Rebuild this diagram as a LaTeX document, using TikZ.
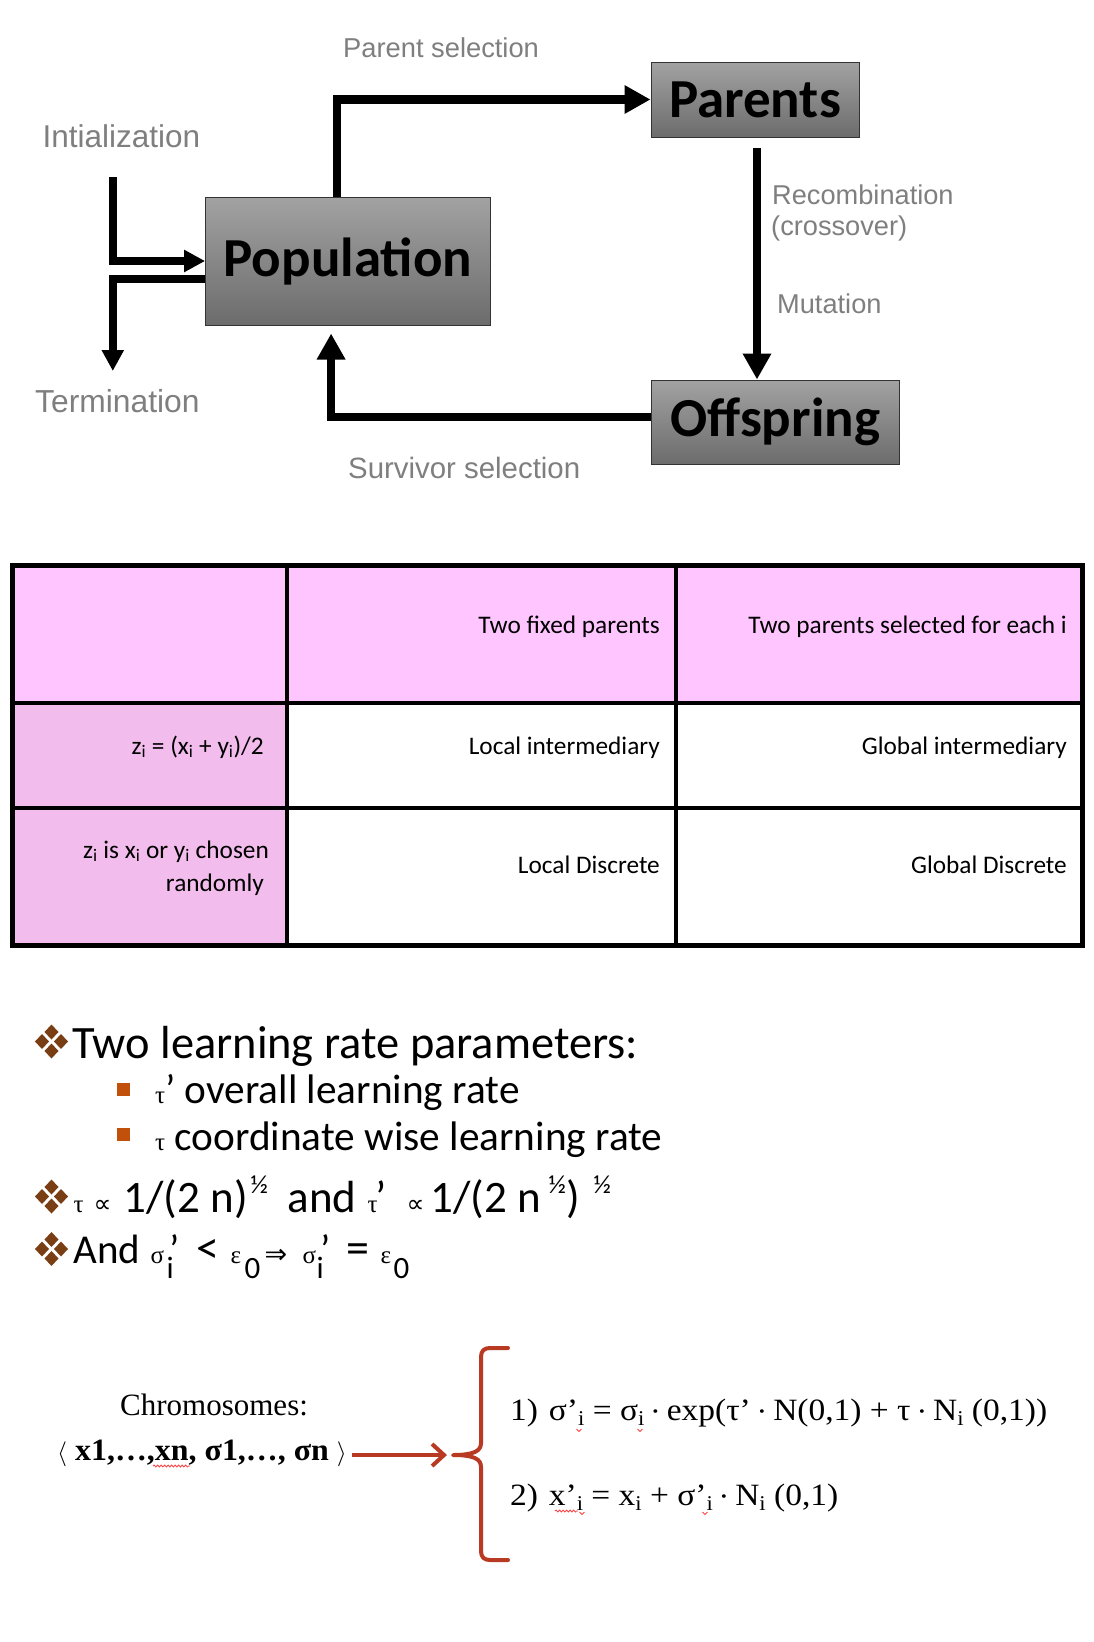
\documentclass[tikz,border=0pt]{standalone}
\usepackage{fontspec}
\usepackage{graphicx}
\setmainfont{Liberation Sans}
\newfontfamily\carlito{Carlito}
\newfontfamily\lserif{Liberation Serif}
\newfontfamily\dvs{DejaVu Sans}
\usetikzlibrary{arrows.meta,decorations.pathmorphing}
\newcommand\fsz[1]{\fontsize{#1}{#1}\selectfont}
\newcommand\gs{\lserif\fsz{25}}
\newcommand\symb[2][25]{{\dvs\fsz{#1}#2}}
\newcommand\sups[1]{\raisebox{19pt}{\carlito\fsz{26}#1}}
\newcommand\subs[1]{\raisebox{-15pt}{\carlito\fsz{31}#1}}
\newcommand\subb[1]{\raisebox{-5pt}{\lserif\fsz{21}#1}}
\newcommand\cdt{\raisebox{4pt}{\fsz{15}•}}
\newcommand\putat[2]{\makebox[0pt][l]{\hspace{#1pt}#2}}
\definecolor{lblgray}{HTML}{7F7F7F}
\definecolor{boxtop}{HTML}{A2A2A2}
\definecolor{boxbot}{HTML}{6C6C6C}
\definecolor{pinkhead}{HTML}{FFC5FF}
\definecolor{pinkside}{HTML}{F2BDEC}
\definecolor{bulbrown}{HTML}{7A3E14}
\definecolor{sqorange}{HTML}{C0500A}
\definecolor{redc}{HTML}{B83A22}
\begin{document}
\begin{tikzpicture}[x=1pt,y=-1pt,
  box/.style={draw=black!80, line width=1pt, top color=boxtop, bottom color=boxbot,
    inner sep=0pt, font=\carlito\bfseries\fsz{55}},
  lbl/.style={font=\fsz{27.2}, text=lblgray, inner sep=0pt, anchor=base west},
  flow/.style={line width=8.5pt, -{Triangle[length=26pt,width=27pt]}},
  flowsmall/.style={line width=7.5pt, -{Triangle[length=21pt,width=21pt]}},
  cell/.style={font=\carlito\fsz{25.3}, inner sep=0pt, anchor=base east},
  bt/.style={inner sep=0pt, anchor=base west},
  eq/.style={font=\lserif\fsz{31}, inner sep=0pt, anchor=base west},
  fourd/.pic={\foreach \dx/\dy in {0/-9.5,-9.5/0,9.5/0,0/9.5}
     \fill[bulbrown] (\dx,\dy) +(-7,0) -- +(0,-7.5) -- +(7,0) -- +(0,7.5) -- cycle;},
  squig/.style={draw=red!75, line width=0.8pt, decorate,
     decoration={snake, amplitude=1pt, segment length=3.5pt}},
  vmark/.style={draw=red!75, line width=0.8pt}
]
\useasboundingbox[fill=white] (0,0) rectangle (1094,1642);

% ---------- cycle diagram ----------
\node[box, minimum width=284.4pt, minimum height=128pt] (pop) at (347.8,261) {Population};
\node[box, minimum width=208pt, minimum height=75pt] (par) at (755,99.5) {Parents};
\node[box, minimum width=248.4pt, minimum height=84pt] (off) at (775.2,422) {Offspring};

\coordinate (initstart) at (112.8,177);
\coordinate (termend) at (112.8,371);

\draw[flow] ([xshift=132pt]pop.north west) |- (par.west);
\draw[flow] ([xshift=2pt,yshift=-10pt]par.south) -- ([xshift=2pt]par.south |- off.north);
\draw[flow] ([yshift=5pt]off.west) -| ([xshift=126pt,yshift=-8pt]pop.south west);
\draw[flowsmall] (initstart) |- (pop.west);
\draw[flowsmall] ([yshift=-18pt]pop.west) -| (termend);

\node[lbl, font=\fsz{27.3}] (lps) at (343,57) {Parent selection};
\node[lbl, font=\fsz{31.5}] (lini) at (42.3,147) {Intialization};
\node[lbl, font=\fsz{31.8}] (lter) at (35,412) {Termination};
\node[lbl, font=\fsz{29.4}] (lsur) at (348,478) {Survivor selection};
\node[lbl] (lrec) at (772,204) {Recombination};
\node[lbl] (lcro) at (771,235) {(crossover)};
\node[lbl] (lmut) at (777,313) {Mutation};

% ---------- table ----------
\fill[pinkhead] (12.5,565) rectangle (1082,703);
\fill[pinkside] (12.5,703) rectangle (287,945);
\draw[line width=3.5pt] (287,565) -- (287,945) (676,565) -- (676,945)
   (12.5,703) -- (1082,703) (12.5,808) -- (1082,808);
\draw[line width=5pt] (12.5,565) rectangle (1082,945);

\node[cell] (h1) at (660,633) {Two fixed parents};
\node[cell] (h2) at (1067,633) {Two parents selected for each i};
\node[cell] (r1c0) at (264,754) {z\textsubscript{i} = (x\textsubscript{i} + y\textsubscript{i})/2};
\node[cell] (r1c1) at (660,754) {Local intermediary};
\node[cell] (r1c2) at (1067,754) {Global intermediary};
\node[cell] (r2c0a) at (269,858) {z\textsubscript{i} is x\textsubscript{i} or y\textsubscript{i} chosen};
\node[cell] (r2c0b) at (264,891) {randomly};
\node[cell] (r2c1) at (660,873) {Local Discrete};
\node[cell] (r2c2) at (1067,873) {Global Discrete};

% ---------- bullets ----------
\pic at (51.5,1041.5) {fourd};
\pic at (51.5,1196.5) {fourd};
\pic at (51.5,1249) {fourd};
\fill[sqorange] (117,1083) rectangle (130,1096);
\fill[sqorange] (117,1128) rectangle (130,1141);

\node[bt, font=\carlito\fsz{46.4}] (b1) at (72,1058) {Two learning rate parameters:};
\node[bt, font=\carlito\fsz{41.3}] (b2) at (155,1103) {{\gs τ}’ overall learning rate};
\node[bt, font=\carlito\fsz{41.3}] (b3) at (155,1150) {{\gs τ} coordinate wise learning rate};
\node[bt, font=\carlito\fsz{45}] (b4) at (73,1212)
  {\putat{0}{\gs τ}\putat{20}{\symb{∝}}\putat{50}{1/(2 n)}\putat{177}{\sups{½}}%
   \putat{214}{and}\putat{294}{\gs τ}\putat{302}{’}\putat{333}{\symb{∝}}%
   \putat{357}{1/(2 n}\putat{475}{\sups{½}}\putat{493}{)}\putat{520}{\sups{½}}\hspace{540pt}};
\node[bt, font=\carlito\fsz{41}] (b5) at (73,1263)
  {\putat{0}{And}\putat{77}{\gs σ}\putat{93}{\subs{i}}\putat{96}{’}\putat{123}{\fsz{46}<}%
   \putat{157}{\gs ε}\putat{171}{\subs{0}}\putat{191}{\symb[27]{⇒}}\putat{229}{\gs σ}%
   \putat{243}{\subs{i}}\putat{247}{’}\putat{273}{\fsz{46}=}\putat{307}{\gs ε}\putat{320}{\subs{0}}\hspace{335pt}};

% ---------- chromosome formulas ----------
\node[eq] (ctitle) at (120,1415) {Chromosomes:};
\node[eq, font=\lserif\bfseries\fsz{31}] (chromo) at (57,1460)
  {\scalebox{1.03}[1]{$\langle$ x1,…,xn, σ1,…, σn $\rangle$}};
\coordinate (bracetip) at (453,1455);
\draw[redc, line width=4pt, -{Straight Barb[length=12pt,width=22pt]}]
  ([xshift=5pt]chromo.east |- bracetip) -- ([xshift=-6pt]bracetip);
\draw[redc, line width=4pt, line cap=round, line join=round]
  (508,1348) -- (490,1348) .. controls (484,1348) and (481,1351) .. (481,1357)
  -- (481,1443) .. controls (481,1451) and (474,1455) .. (bracetip)
  .. controls (474,1455) and (481,1459) .. (481,1467)
  -- (481,1551) .. controls (481,1557) and (484,1560) .. (490,1560) -- (508,1560);

\node[eq] (eq1) at (510,1420)
  {\scalebox{1.08}[1]{1)\hspace{10pt}σ’\subb{i} = σ\subb{i} \cdt{} exp(τ’ \cdt{} N(0,1) + τ \cdt{} N\subb{i} (0,1))}};
\node[eq] (eq2) at (510,1505)
  {\scalebox{1.08}[1]{2)\hspace{10pt}x’\subb{i} = x\subb{i} + σ’\subb{i} \cdt{} N\subb{i} (0,1)}};

% spell-check marks
\draw[squig] (153,1466) -- (190,1466);
\draw[squig] (555,1511) -- (578,1511);
\foreach \vx/\vy in {579/1429, 640/1429, 582/1512, 705/1512}
  \draw[vmark] (\vx-2.5,\vy) -- (\vx,\vy+2.5) -- (\vx+2.5,\vy);
\end{tikzpicture}
\end{document}
